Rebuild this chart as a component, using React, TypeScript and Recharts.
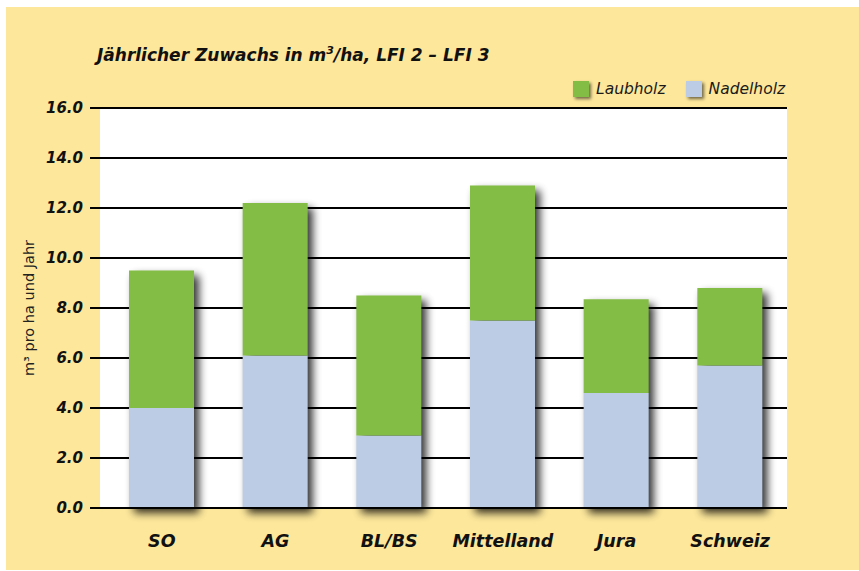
import React from "react";
import { BarChart, Bar, XAxis, YAxis, CartesianGrid, Label } from "recharts";

const categories = ["SO", "AG", "BL/BS", "Mittelland", "Jura", "Schweiz"];
const nadelholz = [4.0, 6.1, 2.9, 7.5, 4.6, 5.7];
const laubholz = [5.5, 6.1, 5.6, 5.4, 3.75, 3.1];
const yTicks = [0, 2, 4, 6, 8, 10, 12, 14, 16];
const legendItems = ["Laubholz", "Nadelholz"];

const data = categories.map((c, i) => ({ name: c, nadel: nadelholz[i], laub: laubholz[i] }));

const YELLOW = "#FDE79B";
const GREEN = "#84BD45";
const BLUE = "#BBCCE4";
const FONT = "'DejaVu Sans', Verdana, sans-serif";

const NadelShape = (props: any) => {
  const { x, y, width, height, payload } = props;
  const total = payload.nadel + payload.laub;
  const th = (height * total) / payload.nadel;
  return (
    <g>
      <rect x={x} y={y + height - th} width={width} height={th} fill="#000" filter="url(#barShadow)" />
      <rect x={x} y={y} width={width} height={height} fill={BLUE} />
    </g>
  );
};

const legendColors = [GREEN, BLUE];

const LegendBox = () => (
  <div
    style={{
      position: "absolute",
      left: 573,
      top: 80,
      display: "flex",
      alignItems: "center",
      fontFamily: FONT,
      fontStyle: "italic",
      fontSize: 15.5,
      color: "#1a1a1a",
      whiteSpace: "nowrap",
    }}
  >
    {legendItems.map((label, i) => (
      <div key={label} style={{ display: "flex", alignItems: "center", marginLeft: i === 0 ? 0 : 20 }}>
        <div style={{ width: 16, height: 16, background: legendColors[i], boxShadow: "2px 2px 3px rgba(0,0,0,0.55)", marginRight: 7 }} />
        <span>{label}</span>
      </div>
    ))}
  </div>
);

export default function App() {
  return (
    <div style={{ position: "absolute", left: 0, top: 0, width: 859, height: 571, background: "#fff", overflow: "hidden" }}>
      <div style={{ position: "absolute", left: 6, top: 7, width: 853, height: 563, background: YELLOW }} />
      <div
        style={{
          position: "absolute",
          left: 97,
          top: 44,
          fontFamily: FONT,
          fontWeight: "bold",
          fontStyle: "italic",
          fontSize: 17,
          color: "#111",
          whiteSpace: "nowrap",
        }}
      >
        Jährlicher Zuwachs in m<sup style={{ fontSize: 11 }}>3</sup>/ha, LFI 2 – LFI 3
      </div>
      <LegendBox />
      <div style={{ position: "absolute", left: 0, top: 0 }}>
        <BarChart width={859} height={571} data={data} margin={{ top: 108, right: 72, bottom: 33, left: 0 }}>
          <defs>
            <filter id="barShadow" x="-30%" y="-10%" width="170%" height="130%">
              <feOffset dx="5" dy="5" in="SourceGraphic" result="off" />
              <feGaussianBlur in="off" stdDeviation="4" result="blur" />
              <feComponentTransfer in="blur">
                <feFuncA type="linear" slope="0.8" />
              </feComponentTransfer>
            </filter>
          </defs>
          <CartesianGrid vertical={false} stroke="#000" strokeWidth={2} fill="#fff" fillOpacity={1} />
          <XAxis
            dataKey="name"
            height={30}
            padding={{ left: 5, right: 0 }}
            tickLine={false}
            tickSize={0}
            tickMargin={27}
            axisLine={{ stroke: "#000", strokeWidth: 2 }}
            tick={{ fill: "#111", fontFamily: FONT, fontWeight: "bold", fontStyle: "italic", fontSize: 17.5 }}
          />
          <YAxis
            width={100}
            domain={[0, 16]}
            ticks={yTicks}
            interval={0}
            tickFormatter={(v: number) => v.toFixed(1)}
            axisLine={false}
            tickSize={10}
            tickMargin={7}
            tickLine={{ stroke: "#000", strokeWidth: 2 }}
            tick={{ fill: "#111", fontFamily: FONT, fontWeight: "bold", fontStyle: "italic", fontSize: 15 }}
          >
            <Label
              value="m³ pro ha und Jahr"
              angle={-90}
              position="insideLeft"
              offset={29}
              style={{ textAnchor: "middle", fill: "#222", fontFamily: FONT, fontSize: 14.5 }}
            />
          </YAxis>
          <Bar dataKey="nadel" stackId="a" fill={BLUE} barSize={65} isAnimationActive={false} shape={<NadelShape />} />
          <Bar dataKey="laub" stackId="a" fill={GREEN} barSize={65} isAnimationActive={false} />
        </BarChart>
      </div>
    </div>
  );
}
